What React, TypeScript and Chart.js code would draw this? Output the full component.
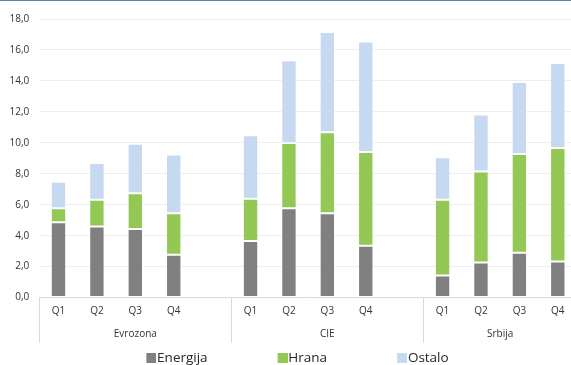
import React, { useEffect, useRef } from "react";
import { Chart, registerables } from "chart.js";

Chart.register(...registerables);

const quarters = ["Q1", "Q2", "Q3", "Q4", "", "Q1", "Q2", "Q3", "Q4", "", "Q1", "Q2", "Q3", "Q4"];
const groups = ["Evrozona", "CIE", "Srbija"];
const groupSizes = [5, 5, 4];
const energija = [4.87, 4.59, 4.44, 2.77, null, 3.66, 5.78, 5.45, 3.35, null, 1.43, 2.27, 2.9, 2.34];
const hrana = [0.91, 1.73, 2.31, 2.68, null, 2.72, 4.21, 5.24, 6.06, null, 4.89, 5.87, 6.38, 7.33];
const ostalo = [1.71, 2.38, 3.19, 3.79, null, 4.11, 5.35, 6.47, 7.14, null, 2.75, 3.69, 4.65, 5.48];
const yTicks = [0, 2, 4, 6, 8, 10, 12, 14, 16, 18];

const COLORS = { energija: "#808080", hrana: "#92c853", ostalo: "#c6d9f1" };
const FONT = "'Open Sans', 'DejaVu Sans', sans-serif";
const TEXT = "#333333";
const SEP = "#d9d9d9";

const PW = 64; // legend swatch slot width

function makeSwatch(color: string) {
  const c = document.createElement("canvas");
  c.width = 76;
  c.height = 10;
  const g = c.getContext("2d")!;
  g.fillStyle = color;
  g.fillRect(66, 0, 10, 10);
  return c;
}

export default function App() {
  const ref = useRef<HTMLCanvasElement | null>(null);

  useEffect(() => {
    if (!ref.current) return;
    const bounds: number[] = [0];
    const centers: number[] = [];
    let acc = 0;
    groupSizes.forEach((s) => {
      centers.push(acc + (s - 1) / 2);
      acc += s;
      bounds.push(acc);
    });

    const chart = new Chart(ref.current, {
      type: "bar",
      data: {
        labels: quarters,
        datasets: [
          { label: "Energija", data: energija, backgroundColor: COLORS.energija, xAxisID: "x", yAxisID: "y" },
          { label: "Hrana", data: hrana, backgroundColor: COLORS.hrana, xAxisID: "x", yAxisID: "y" },
          { label: "Ostalo", data: ostalo, backgroundColor: COLORS.ostalo, xAxisID: "x", yAxisID: "y" },
        ].map((d) => ({
          ...d,
          borderColor: "rgba(255,255,255,0.45)",
          borderWidth: 1,
          borderSkipped: false,
          categoryPercentage: 1,
          barPercentage: 0.4,
        })) as any,
      },
      options: {
        responsive: false,
        animation: false,
        devicePixelRatio: 1,
        layout: { padding: { top: 19, left: 0, right: 0, bottom: 0 } },
        plugins: {
          tooltip: { enabled: false },
          legend: {
            position: "bottom",
            align: "center",
            labels: {
              usePointStyle: true,
              pointStyleWidth: PW,
              padding: 10,
              font: { family: FONT, size: 13.5 },
              color: "#262626",
              generateLabels: (ch: any) =>
                ch.data.datasets.map((ds: any, i: number) => ({
                  text: ds.label,
                  fillStyle: ds.backgroundColor,
                  strokeStyle: ds.backgroundColor,
                  lineWidth: 0,
                  hidden: !ch.isDatasetVisible(i),
                  datasetIndex: i,
                  fontColor: "#262626",
                  pointStyle: makeSwatch(ds.backgroundColor),
                })),
            },
          },
        },
        scales: {
          x: {
            type: "category",
            stacked: true,
            offset: true,
            weight: 0,
            afterFit: (s: any) => {
              s.height = 21.2;
            },
            grid: {
              display: true,
              offset: true,
              drawOnChartArea: false,
              drawTicks: true,
              tickLength: 45,
              color: (ctx: any) => (bounds.includes(ctx.index) ? SEP : "rgba(0,0,0,0)"),
              tickColor: (ctx: any) => (bounds.includes(ctx.index) ? SEP : "rgba(0,0,0,0)"),
            },
            border: { display: true, color: SEP },
            ticks: {
              autoSkip: false,
              maxRotation: 0,
              padding: -37,
              color: TEXT,
              font: { family: FONT, size: 10 },
            },
          },
          x2: {
            type: "linear",
            position: "bottom",
            weight: 1,
            offset: false,
            bounds: "data",
            min: -0.5,
            max: quarters.length - 0.5,
            afterFit: (s: any) => {
              s.height = 22.7;
            },
            grid: { display: false, drawTicks: false, offset: false },
            border: { display: false },
            afterBuildTicks: (axis: any) => {
              axis.ticks = centers.map((v) => ({ value: v }));
            },
            ticks: {
              autoSkip: false,
              maxRotation: 0,
              padding: 9.5,
              color: TEXT,
              font: { family: FONT, size: 10 },
              callback: (_v: any, i: number) => groups[i],
            },
          },
          y: {
            stacked: true,
            min: 0,
            max: 18,
            afterFit: (s: any) => {
              s.width = 81.3;
            },
            afterBuildTicks: (s: any) => {
              s.ticks = yTicks.map((v) => ({ value: v }));
            },
            grid: { color: "#eeeeee", drawTicks: false },
            border: { display: false },
            ticks: {
              padding: 10,
              color: TEXT,
              font: { family: FONT, size: 10 },
              callback: (v: any) => Number(v).toFixed(1).replace(".", ","),
            },
          },
        },
      } as any,
    });
    return () => chart.destroy();
  }, []);

  return (
    <div
      style={{
        position: "fixed",
        left: 0,
        top: 0,
        width: 571,
        height: 365,
        overflow: "hidden",
        background: "#ffffff",
      }}
    >
      <canvas
        ref={ref}
        width={619}
        height={375}
        style={{ position: "absolute", left: -42, top: 0, width: 619, height: 375 }}
      />
      <div
        style={{
          position: "absolute",
          left: 0,
          top: 0,
          width: "100%",
          height: 1,
          background: "#5a879e",
        }}
      />
    </div>
  );
}
